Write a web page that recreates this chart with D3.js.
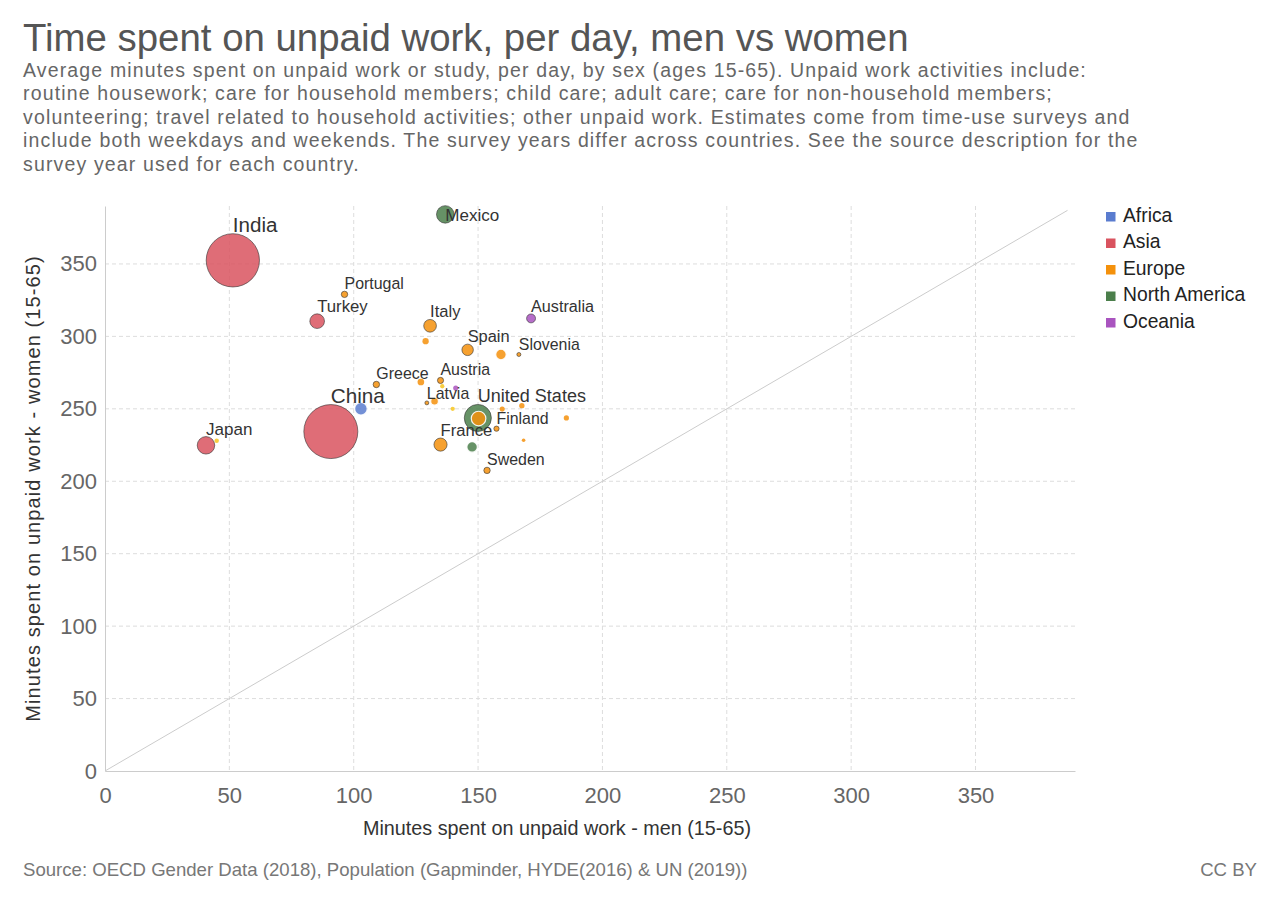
<!DOCTYPE html>
<html>
<head>
<meta charset="utf-8">
<script src="https://cdn.jsdelivr.net/npm/d3@7"></script>
<style>
  html, body { margin: 0; padding: 0; background: #fff; }
  svg { display: block; font-family: "Liberation Sans", Arial, Helvetica, sans-serif; }
</style>
</head>
<body>
<svg id="chart" width="1280" height="904"></svg>
<script>
// ---------- DATA ----------
const titleText = "Time spent on unpaid work, per day, men vs women";
const subtitleLines = [
  "Average minutes spent on unpaid work or study, per day, by sex (ages 15-65). Unpaid work activities include:",
  "routine housework; care for household members; child care; adult care; care for non-household members;",
  "volunteering; travel related to household activities; other unpaid work. Estimates come from time-use surveys and",
  "include both weekdays and weekends. The survey years differ across countries. See the source description for the",
  "survey year used for each country."
];
const sourceText = "Source: OECD Gender Data (2018), Population (Gapminder, HYDE(2016) & UN (2019))";
const licenseText = "CC BY";
const xAxisTitle = "Minutes spent on unpaid work - men (15-65)";
const yAxisTitle = "Minutes spent on unpaid work - women (15-65)";

const continentNames = ["Africa", "Asia", "Europe", "North America", "Oceania"];

const countries = ["China", "India", "United States", "Mexico", "Japan", "Turkey", "Germany", "France",
  "Italy", "South Africa", "Spain", "Poland", "Canada", "Australia", "Netherlands", "Belgium",
  "Sweden", "Portugal", "Greece", "Hungary", "Austria", "Denmark", "Norway", "Finland",
  "Ireland", "New Zealand", "Slovenia", "Latvia", "Estonia", "Lithuania", "Luxembourg", "Korea"];
const continents = ["Asia", "Asia", "North America", "North America", "Asia", "Asia", "Europe", "Europe",
  "Europe", "Africa", "Europe", "Europe", "North America", "Oceania", "Europe", "Europe",
  "Europe", "Europe", "Europe", "Europe", "Europe", "Europe", "Europe", "Europe",
  "Europe", "Oceania", "Europe", "Europe", "Europe", "Other", "Other", "Other"];
const menMinutes = [90.8, 51.4, 149.9, 136.8, 40.6, 85.3, 150.2, 134.9,
  130.7, 102.9, 145.8, 159.2, 147.6, 171.3, 132.5, 127.0,
  153.6, 96.3, 109.1, 128.9, 134.9, 167.6, 185.5, 157.4,
  159.7, 141.0, 166.4, 129.4, 168.3, 135.6, 139.8, 44.9];
const womenMinutes = [234.3, 352.5, 243.7, 384.2, 224.8, 310.5, 243.3, 225.3,
  307.3, 250.0, 290.7, 287.5, 223.7, 312.4, 255.2, 268.5,
  207.5, 329.0, 266.8, 296.7, 269.6, 252.2, 243.7, 236.3,
  249.8, 264.3, 287.5, 254.1, 228.3, 265.6, 250.0, 228.0];
const populationMillions = [1420, 1380, 330, 126, 126, 84, 83, 65,
  60, 59, 47, 38, 38, 25, 17, 11.5,
  10.2, 10.2, 10.4, 9.7, 9.0, 5.8, 5.4, 5.5,
  4.9, 5.0, 2.1, 1.9, 1.3, 2.8, 2.8, 3.2];
const labeledCountries = ["India", "China", "Japan", "Turkey", "Portugal", "Mexico", "Italy", "Spain",
  "Slovenia", "Australia", "Greece", "Austria", "Latvia", "United States", "Finland", "France", "Sweden"];

const xTicks = [0, 50, 100, 150, 200, 250, 300, 350];
const yTicks = [0, 50, 100, 150, 200, 250, 300, 350];
const axisMax = 390;
const diagonalMax = 387;

// ---------- STYLE ----------
const colors = {
  "Africa": "#5a7ccf",
  "Asia": "#d9535f",
  "Europe": "#f4910c",
  "North America": "#4b7f4b",
  "Oceania": "#a954bf",
  "Other": "#f7c61e"
};

const W = 1280, H = 904;
const plot = { left: 105, right: 1075, top: 206, bottom: 771 };

const svg = d3.select("#chart");

const x = d3.scaleLinear().domain([0, axisMax]).range([plot.left, plot.right]);
const y = d3.scaleLinear().domain([0, axisMax]).range([plot.bottom, plot.top]);
const rScale = d3.scaleSqrt().domain([0, 1420]).range([1, 27]);
const radius = p => Math.max(1.8, rScale(p));
const fontScale = d3.scaleLinear().domain([3, 27]).range([15.9, 20.7]).clamp(true);

// Title & subtitle
svg.append("text").attr("x", 23).attr("y", 51)
  .attr("font-size", 38.4).attr("fill", "#555").text(titleText);
svg.append("g").selectAll("text").data(subtitleLines).join("text")
  .attr("x", 23).attr("y", (d, i) => 77 + i * 23.4)
  .attr("font-size", 19.5).attr("letter-spacing", 1.15)
  .attr("fill", "#666").text(d => d);

// Gridlines
const grid = svg.append("g");
grid.selectAll("line.hg").data(yTicks.filter(t => t > 0)).join("line")
  .attr("x1", plot.left).attr("x2", plot.right)
  .attr("y1", d => y(d)).attr("y2", d => y(d))
  .attr("stroke", "#ddd").attr("stroke-dasharray", "4,3");
grid.selectAll("line.vg").data(xTicks.filter(t => t > 0)).join("line")
  .attr("y1", plot.top).attr("y2", plot.bottom)
  .attr("x1", d => x(d)).attr("x2", d => x(d))
  .attr("stroke", "#ddd").attr("stroke-dasharray", "4,3");

// Axes
const xAxis = d3.axisBottom(x).tickValues(xTicks).tickSize(0).tickPadding(16).tickFormat(d3.format("d"));
const yAxis = d3.axisLeft(y).tickValues(yTicks).tickSize(0).tickPadding(8).tickFormat(d3.format("d"));
const gx = svg.append("g").attr("transform", `translate(0,${plot.bottom})`).call(xAxis);
const gy = svg.append("g").attr("transform", `translate(${plot.left},0)`).call(yAxis);
[gx, gy].forEach(g => {
  g.select(".domain").attr("stroke", "#ccc");
  g.selectAll("text").attr("font-size", 22).attr("fill", "#666")
    .attr("font-family", "Liberation Sans, Arial, sans-serif");
});

// Diagonal y = x line
svg.append("line")
  .attr("x1", x(0)).attr("y1", y(0)).attr("x2", x(diagonalMax)).attr("y2", y(diagonalMax))
  .attr("stroke", "#ccc").attr("stroke-width", 1);

// Axis titles
svg.append("text").attr("x", 557).attr("y", 835).attr("text-anchor", "middle")
  .attr("font-size", 19.8).attr("fill", "#333").text(xAxisTitle);
svg.append("text").attr("transform", `translate(40,${(plot.top + plot.bottom) / 2}) rotate(-90)`)
  .attr("text-anchor", "middle").attr("font-size", 20).attr("letter-spacing", 1.1)
  .attr("fill", "#333").text(yAxisTitle);

// Points
const data = countries.map((c, i) => ({
  name: c, continent: continents[i], men: menMinutes[i], women: womenMinutes[i],
  pop: populationMillions[i], labeled: labeledCountries.includes(c)
})).sort((a, b) => b.pop - a.pop);

const pts = svg.append("g");
pts.selectAll("circle").data(data).join("circle")
  .attr("cx", d => x(d.men)).attr("cy", d => y(d.women))
  .attr("r", d => radius(d.pop))
  .attr("fill", d => colors[d.continent]).attr("fill-opacity", 0.85)
  .attr("stroke", d => d.labeled ? "#333" : "#fff")
  .attr("stroke-opacity", d => d.labeled ? 0.75 : (radius(d.pop) > 3.5 ? 0.9 : 0))
  .attr("stroke-width", d => d.labeled ? 0.8 : 1.2);

// Labels
const labels = svg.append("g");
data.filter(d => d.labeled).forEach(d => {
  const cx = x(d.men), cy = y(d.women), r = radius(d.pop);
  const fs = fontScale(r);
  let tx = cx, ty = cy - r - 2;
  if (ty - fs * 0.75 < plot.top) { ty = cy + fs * 0.38; }
  labels.append("text").attr("x", tx).attr("y", ty)
    .attr("font-size", fs).attr("fill", "#333").text(d.name);
});

// Legend
const lg = svg.append("g");
continentNames.forEach((c, i) => {
  lg.append("rect").attr("x", 1106).attr("y", 212 + i * 26.5)
    .attr("width", 9.5).attr("height", 9.5).attr("fill", colors[c]);
  lg.append("text").attr("x", 1123).attr("y", 221.5 + i * 26.5)
    .attr("font-size", 19.3).attr("fill", "#222").text(c);
});

// Footer
svg.append("text").attr("x", 23).attr("y", 876).attr("font-size", 18.6).attr("fill", "#777").text(sourceText);
svg.append("text").attr("x", 1257).attr("y", 876).attr("text-anchor", "end")
  .attr("font-size", 18.6).attr("fill", "#777").text(licenseText);
</script>
</body>
</html>
